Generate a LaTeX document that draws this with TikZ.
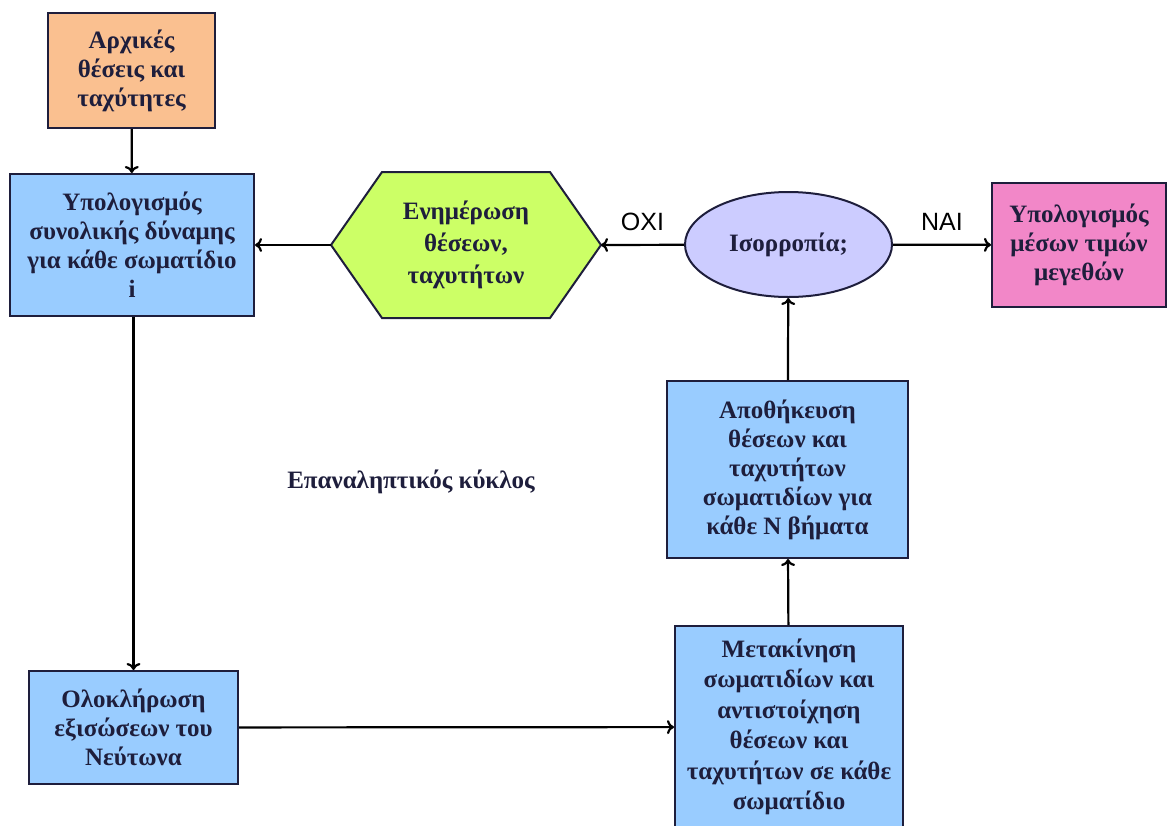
\documentclass[tikz,border=0pt]{standalone}
\usepackage{fontspec}
\setmainfont{Liberation Serif}
\newfontfamily\labelfont{Liberation Sans}
\usetikzlibrary{shapes.geometric,arrows.meta,backgrounds}
\definecolor{boxblue}{RGB}{153,204,255}
\definecolor{boxorange}{RGB}{250,192,144}
\definecolor{boxgreen}{RGB}{204,255,102}
\definecolor{boxlilac}{RGB}{204,204,255}
\definecolor{boxpink}{RGB}{242,135,200}
\definecolor{rand}{RGB}{30,30,60}
\tikzset{%
		kasten/.style={draw=rand,line width=2pt,align=center,inner sep=0pt,text=rand,
			font=\fontsize{25}{29}\selectfont\bfseries},
		blau/.style={kasten,fill=boxblue},
		hexa/.style={draw=rand,line width=2pt,fill=boxgreen},
		pfeil/.style={line width=2.2pt,-{To[length=7pt,width=14pt]}},
		antwort/.style={font=\labelfont\fontsize{25}{29}\selectfont}
	}

\begin{document}
\begin{tikzpicture}[x=1pt,y=-1pt]
    \useasboundingbox (0,0) rectangle (1169,825);
    % Kaesten
    \node[kasten,fill=boxorange,minimum width=167pt,minimum height=115pt] (init) at (131.5,70.5) {Αρχικές\\θέσεις και\\ταχύτητες};
    \node[blau,minimum width=244pt,minimum height=142pt] (force) at (132,245) {Υπολογισμός\\συνολικής δύναμης\\για κάθε σωματίδιο\\i};
    \node[kasten,draw=none,minimum width=268pt,minimum height=144pt,font=\fontsize{25}{32}\selectfont\bfseries] (upd) at (466,245) {Ενημέρωση\\θέσεων,\\ταχυτήτων};
    \begin{scope}[on background layer]
        \filldraw[hexa] (upd.west) -- ([xshift=51pt]upd.north west) -- ([xshift=-51pt]upd.north east) -- (upd.east) -- ([xshift=-51pt]upd.south east) -- ([xshift=51pt]upd.south west) -- cycle ;
    \end{scope}
    \node[kasten,ellipse,fill=boxlilac,minimum width=207pt,minimum height=105pt] (eq) at (788.5,244.5) {Ισορροπία;};
    \node[kasten,fill=boxpink,minimum width=174pt,minimum height=124pt] (mean) at (1079,245) {Υπολογισμός\\μέσων τιμών\\μεγεθών};
    \node[blau,minimum width=241pt,minimum height=177pt] (store) at (787.5,469.5) {Αποθήκευση\\θέσεων και\\ταχυτήτων\\σωματιδίων για\\κάθε Ν βήματα};
    \node[blau,minimum width=228pt,minimum height=202pt,font=\fontsize{25}{30.5}\selectfont\bfseries] (move) at (789,727) {Μετακίνηση\\σωματιδίων και\\αντιστοίχηση\\θέσεων και\\ταχυτήτων σε κάθε\\σωματίδιο};
    \node[blau,minimum width=209pt,minimum height=113pt] (newton) at (133.5,727.5) {Ολοκλήρωση\\εξισώσεων του\\Νεύτωνα};
    \node[font=\fontsize{25}{29}\selectfont\bfseries,text=rand] (loop) at (411,482) {Επαναληπτικός κύκλος};
    % Pfeile
    \draw[pfeil] (init) -- (force);
    \draw[pfeil] (force.south -| newton.north) -- (newton);
    \draw[pfeil] (newton) -- (move);
    \draw[pfeil] (move) -- (store);
    \draw[pfeil] (store) -- (eq);
    \draw[pfeil] (eq) -- node[antwort,above=10pt]{ΝΑΙ} (mean);
    \draw[pfeil] (eq) -- node[antwort,above=10pt]{ΟΧΙ} (upd.east);
    \draw[pfeil] (upd.west) -- (force);
\end{tikzpicture}
\end{document}
